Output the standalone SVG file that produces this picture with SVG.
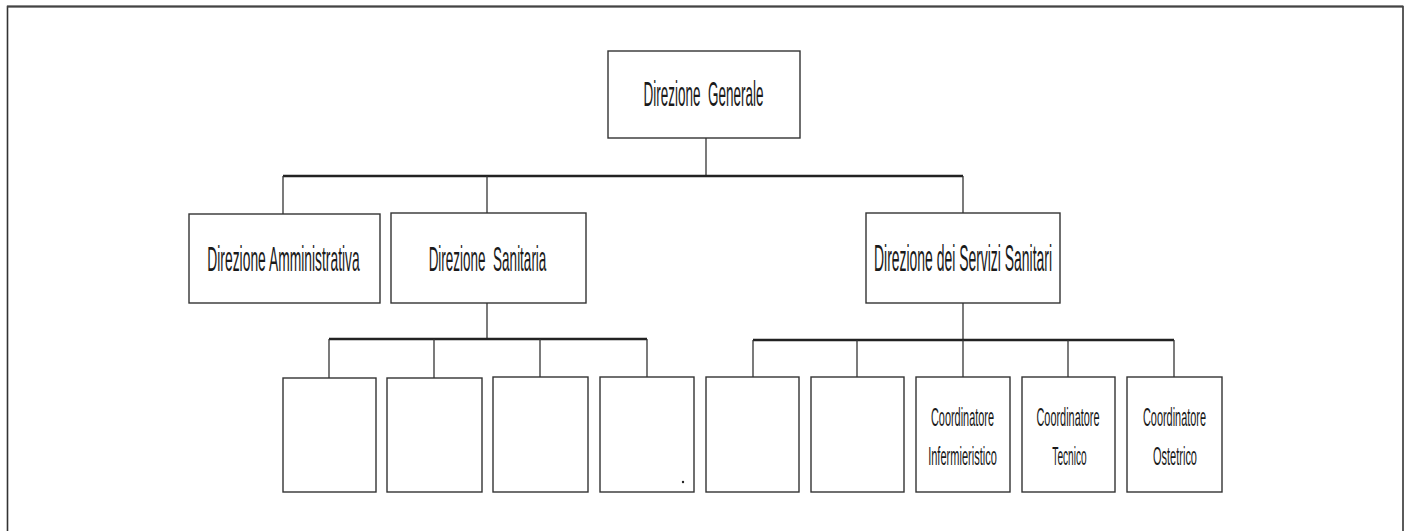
<svg xmlns="http://www.w3.org/2000/svg" width="1411" height="531" viewBox="0 0 1411 531">
<style>
.box{fill:#fff;stroke:#333;stroke-width:1.4}
.big{font-family:"Liberation Sans",Arial,sans-serif;font-size:36px;fill:#1a1a1a;text-anchor:middle}
.small{font-family:"Liberation Sans",Arial,sans-serif;font-size:26px;fill:#1a1a1a;text-anchor:middle}
.bus{stroke:#222;stroke-width:2.6;fill:none}
.stem{stroke:#333;stroke-width:1.3;fill:none}
</style>
<rect width="1411" height="531" fill="#fff"/>
<g id="frame">
<path d="M7.5,540 V6.5 H1403 V540" fill="none" stroke="#333" stroke-width="1.6"/>
<line x1="7" y1="6.5" x2="1403" y2="6.5" stroke="#444" stroke-width="2.2"/>
</g>
<g id="connectors">
<line class="stem" x1="706" y1="138" x2="706" y2="176"/>
<line class="bus" x1="283" y1="176" x2="963" y2="176"/>
<line class="stem" x1="283" y1="176" x2="283" y2="214"/>
<line class="stem" x1="487" y1="176" x2="487" y2="213"/>
<line class="stem" x1="963" y1="176" x2="963" y2="213"/>
<line class="stem" x1="487" y1="303" x2="487" y2="339"/>
<line class="bus" x1="329" y1="339" x2="647" y2="339"/>
<line class="stem" x1="329" y1="339" x2="329" y2="378"/>
<line class="stem" x1="434" y1="339" x2="434" y2="378"/>
<line class="stem" x1="540" y1="339" x2="540" y2="377"/>
<line class="stem" x1="647" y1="339" x2="647" y2="377"/>
<line class="stem" x1="963" y1="303" x2="963" y2="340"/>
<line class="bus" x1="753" y1="340" x2="1174" y2="340"/>
<line class="stem" x1="753" y1="340" x2="753" y2="377"/>
<line class="stem" x1="857" y1="340" x2="857" y2="377"/>
<line class="stem" x1="963" y1="340" x2="963" y2="377"/>
<line class="stem" x1="1068" y1="340" x2="1068" y2="377"/>
<line class="stem" x1="1174" y1="340" x2="1174" y2="377"/>
</g>
<g id="direzione-generale">
<rect class="box" x="608" y="51" width="192" height="87"/>
<text class="big" xml:space="preserve" transform="translate(703.5,106) scale(0.375,1)">Direzione  Generale</text>
</g>
<g id="direzione-amministrativa">
<rect class="box" x="189" y="214" width="191" height="89"/>
<text class="big" transform="translate(283.5,271) scale(0.385,1)">Direzione Amministrativa</text>
</g>
<g id="direzione-sanitaria">
<rect class="box" x="391" y="213" width="195" height="90"/>
<text class="big" xml:space="preserve" transform="translate(487.5,271) scale(0.375,1)">Direzione  Sanitaria</text>
</g>
<g id="direzione-servizi-sanitari">
<rect class="box" x="866" y="213" width="194" height="90"/>
<text class="big" transform="translate(963,271) scale(0.387,1)">Direzione dei Servizi Sanitari</text>
</g>
<g id="box1"><rect class="box" x="283" y="378" width="93" height="114"/></g>
<g id="box2"><rect class="box" x="387" y="378" width="95" height="114"/></g>
<g id="box3"><rect class="box" x="493" y="377" width="95" height="115"/></g>
<g id="box4"><rect class="box" x="600" y="377" width="94" height="115"/><circle cx="683" cy="482" r="1.2" fill="#222"/></g>
<g id="box5"><rect class="box" x="706" y="377" width="93" height="115"/></g>
<g id="box6"><rect class="box" x="811" y="377" width="93" height="115"/></g>
<g id="coordinatore-infermieristico">
<rect class="box" x="916" y="377" width="94" height="115"/>
<text class="small" transform="translate(962.5,426) scale(0.42,1)">Coordinatore</text>
<text class="small" transform="translate(962.5,465) scale(0.425,1)">Infermieristico</text>
</g>
<g id="coordinatore-tecnico">
<rect class="box" x="1022" y="377" width="93" height="115"/>
<text class="small" transform="translate(1068,426) scale(0.42,1)">Coordinatore</text>
<text class="small" transform="translate(1069.5,465) scale(0.39,1)">Tecnico</text>
</g>
<g id="coordinatore-ostetrico">
<rect class="box" x="1127" y="377" width="95" height="115"/>
<text class="small" transform="translate(1174.5,426) scale(0.42,1)">Coordinatore</text>
<text class="small" transform="translate(1175,465) scale(0.423,1)">Ostetrico</text>
</g>
</svg>
